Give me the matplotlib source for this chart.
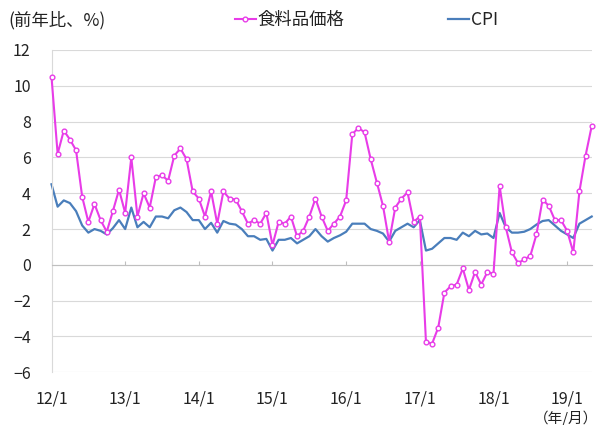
import matplotlib
matplotlib.use("Agg")
import matplotlib.pyplot as plt
import numpy as np

plt.rcParams['font.family'] = ['Noto Sans CJK JP', 'DejaVu Sans']

# Monthly data, 2012/1 .. 2019/5 (year-on-year %)
food = [10.5, 6.2, 7.5, 7.0, 6.4, 3.8, 2.4, 3.4, 2.5, 1.85, 3.0, 4.2,
        2.9, 6.0, 2.7, 4.0, 3.2, 4.9, 5.0, 4.7, 6.1, 6.5, 5.9, 4.1,
        3.7, 2.7, 4.1, 2.3, 4.1, 3.7, 3.65, 3.0, 2.3, 2.5, 2.3, 2.9,
        1.1, 2.4, 2.3, 2.7, 1.6, 1.9, 2.7, 3.7, 2.7, 1.9, 2.3, 2.7,
        3.6, 7.3, 7.65, 7.4, 5.9, 4.6, 3.3, 1.3, 3.2, 3.7, 4.05, 2.4,
        2.7, -4.3, -4.4, -3.5, -1.55, -1.2, -1.1, -0.2, -1.4, -0.4, -1.1, -0.4,
        -0.5, 4.4, 2.1, 0.7, 0.1, 0.3, 0.5, 1.7, 3.65, 3.3, 2.5, 2.5,
        1.9, 0.7, 4.1, 6.1, 7.75]
cpi = [4.5, 3.25, 3.6, 3.45, 3.0, 2.2, 1.8, 2.0, 1.9, 1.7, 2.05, 2.5,
       2.0, 3.2, 2.1, 2.4, 2.1, 2.7, 2.7, 2.6, 3.05, 3.2, 2.95, 2.5,
       2.5, 2.0, 2.35, 1.8, 2.45, 2.3, 2.25, 2.0, 1.6, 1.6, 1.4, 1.45,
       0.8, 1.4, 1.4, 1.5, 1.2, 1.4, 1.6, 2.0, 1.6, 1.3, 1.5, 1.65,
       1.85, 2.3, 2.3, 2.3, 2.0, 1.9, 1.75, 1.3, 1.9, 2.1, 2.3, 2.1,
       2.5, 0.8, 0.9, 1.2, 1.5, 1.5, 1.4, 1.8, 1.6, 1.9, 1.7, 1.75,
       1.5, 2.9, 2.1, 1.8, 1.8, 1.85, 2.0, 2.25, 2.45, 2.5, 2.2, 1.9,
       1.7, 1.5, 2.3, 2.5, 2.7]
tick_labels = ['12/1', '13/1', '14/1', '15/1', '16/1', '17/1', '18/1', '19/1']
series_names = ['食料品価格', 'CPI']

PINK = '#E83CE8'
BLUE = '#4A7EBB'
GRID = '#D9D9D9'

x = np.arange(len(food))
tick_pos = np.arange(len(tick_labels)) * 12

fig = plt.figure(figsize=(6, 4.25), dpi=100)
ax = fig.add_axes([51.5 / 600, 1 - 372.3 / 425, (591.7 - 51.5) / 600, (372.3 - 50) / 425])

ax.yaxis.grid(True, color=GRID, lw=0.8)
ax.set_axisbelow(True)
l1, = ax.plot(x, food, color=PINK, lw=1.5, marker='o', ms=3.4, clip_on=False,
              mfc='white', mec=PINK, mew=1.0, label=series_names[0], zorder=3)
l2, = ax.plot(x, cpi, color=BLUE, lw=1.6, label=series_names[1], zorder=2, clip_on=False)

ax.set_xlim(0, len(food) - 1)
ax.set_ylim(-6, 12)
ax.set_yticks(np.arange(-6, 13, 2))
ax.tick_params(axis='y', length=0, pad=15, labelsize=11.5, colors='#222222')

for s in ('top', 'right'):
    ax.spines[s].set_visible(False)
ax.spines['left'].set_color(GRID)
ax.spines['bottom'].set_position(('data', 0))
ax.spines['bottom'].set_color('#BFBFBF')
ax.set_xticks(tick_pos)
ax.tick_params(axis='x', direction='in', length=3, color='#BFBFBF', labelbottom=False)

sec = ax.secondary_xaxis('bottom')
sec.set_xticks(tick_pos, tick_labels)
sec.spines['bottom'].set_visible(False)
sec.tick_params(length=0, pad=13, labelsize=11.5, colors='#222222')

fig.text(8 / 600, 1 - 20 / 425, '(前年比、%)', ha='left', va='center', fontsize=12.5, color='#222222')
fig.text(0.997, 1 - 418 / 425, '（年/月）', ha='right', va='center', fontsize=10.5, color='#222222')

fig.legend(handles=[l1, l2], loc='center left', bbox_to_anchor=(226 / 600, 1 - 20 / 425),
           ncol=2, frameon=False, fontsize=12.5, handlelength=1.2, handletextpad=0.1,
           columnspacing=6.0, borderpad=0, numpoints=1, labelcolor='#222222')

fig.savefig('out.png', dpi=100)
